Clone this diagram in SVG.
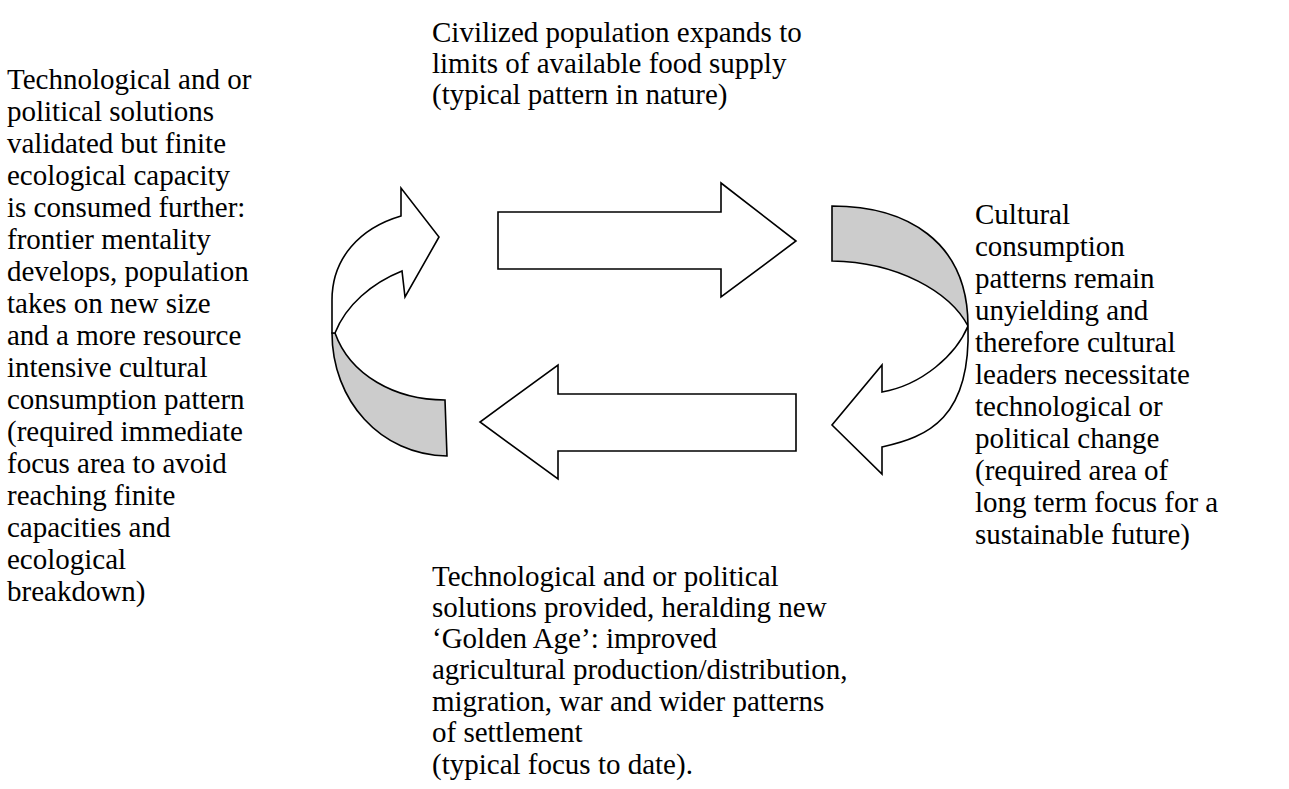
<svg xmlns="http://www.w3.org/2000/svg" width="1289" height="789" viewBox="0 0 1289 789">
<style>
text{font-family:"Liberation Serif","Times New Roman",serif;font-size:29px;fill:#000}
.shape{stroke:#000;stroke-width:1.6;stroke-linejoin:miter}
.w{fill:#fff}
.g{fill:#cccccc}
</style>
<rect width="1289" height="789" fill="#fff"/>
<g id="connectors">
<g id="arrow-right">
<path class="shape w" d="M498,212 L721,212 L721,183 L796,241 L721,297 L721,269 L498,269 Z"/>
</g>
<g id="arrow-left">
<path class="shape w" d="M796,394 L558,394 L558,365 L480,422 L558,479 L558,451 L796,451 Z"/>
</g>
<g id="arrow-curved-right">
<path class="shape g" d="M832,206 C905,206 968,240 968,326 C950,292 898,262 832,261 Z"/>
<path class="shape w" d="M882,392 L882,365 L832,425 L882,474 L882,447 C928,437 971,418 968,326 C956,355 922,385 882,392 Z"/>
</g>
<g id="arrow-curved-left">
<path class="shape g" d="M332,333 C332,400 380,455 447,456 L445,400 C395,400 350,375 335,333 Z"/>
<path class="shape w" d="M401,216 L401,188 L439,237 L405,297 L402,271 C372,283 346,305 335,333 L332,333 L332,300 C332,258 360,228 401,216 Z"/>
</g>
</g>
<g id="node-top">
<text x="432" y="42">Civilized population expands to</text>
<text x="432" y="73">limits of available food supply</text>
<text x="432" y="104">(typical pattern in nature)</text>
</g>
<g id="node-left">
<text x="7" y="89">Technological and or</text>
<text x="7" y="121">political solutions</text>
<text x="7" y="153">validated but finite</text>
<text x="7" y="185">ecological capacity</text>
<text x="7" y="217">is consumed further:</text>
<text x="7" y="249">frontier mentality</text>
<text x="7" y="281">develops, population</text>
<text x="7" y="313">takes on new size</text>
<text x="7" y="345">and a more resource</text>
<text x="7" y="377">intensive cultural</text>
<text x="7" y="409">consumption pattern</text>
<text x="7" y="441">(required immediate</text>
<text x="7" y="473">focus area to avoid</text>
<text x="7" y="505">reaching finite</text>
<text x="7" y="537">capacities and</text>
<text x="7" y="569">ecological</text>
<text x="7" y="601">breakdown)</text>
</g>
<g id="node-right">
<text x="975" y="224">Cultural</text>
<text x="975" y="256">consumption</text>
<text x="975" y="288">patterns remain</text>
<text x="975" y="320">unyielding and</text>
<text x="975" y="352">therefore cultural</text>
<text x="975" y="384">leaders necessitate</text>
<text x="975" y="416">technological or</text>
<text x="975" y="448">political change</text>
<text x="975" y="480">(required area of</text>
<text x="975" y="512">long term focus for a</text>
<text x="975" y="544">sustainable future)</text>
</g>
<g id="node-bottom">
<text x="432" y="586">Technological and or political</text>
<text x="432" y="617">solutions provided, heralding new</text>
<text x="432" y="648">‘Golden Age’: improved</text>
<text x="432" y="679">agricultural production/distribution,</text>
<text x="432" y="711">migration, war and wider patterns</text>
<text x="432" y="742">of settlement</text>
<text x="432" y="774">(typical focus to date).</text>
</g>
</svg>
